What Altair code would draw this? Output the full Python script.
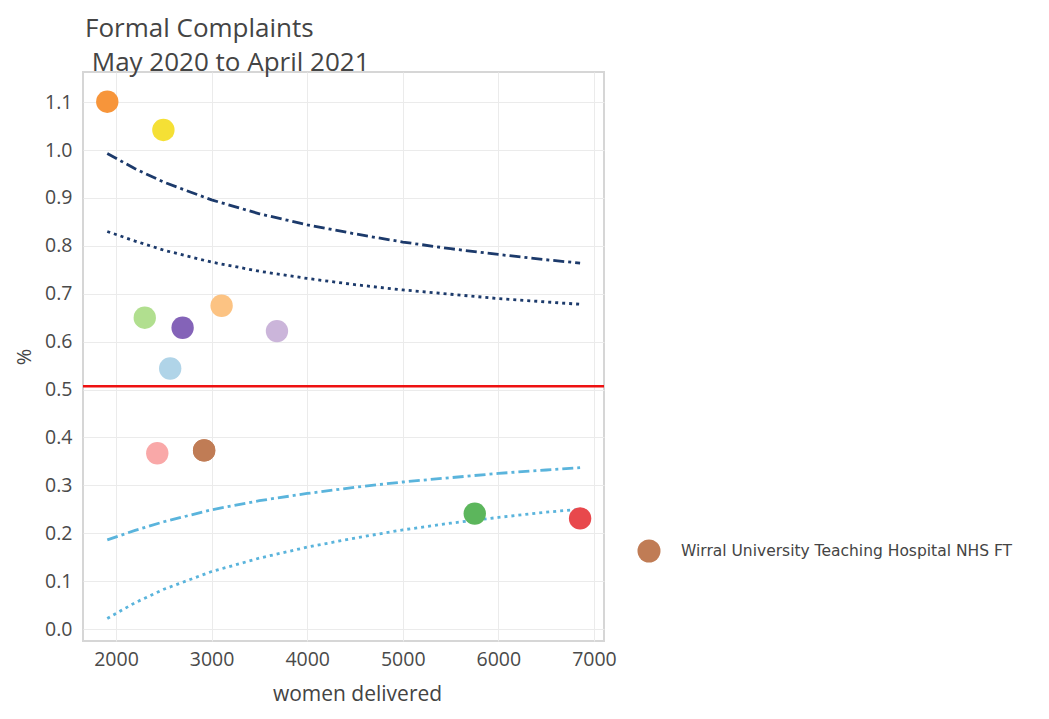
import altair as alt
import pandas as pd

# ---- hospitals (points) ----
hosp_n = [1909, 2496, 2301, 2697, 3105, 3684, 2567, 2432, 2922, 5753, 6855]
hosp_pct = [1.101, 1.042, 0.650, 0.629, 0.675, 0.622, 0.544, 0.367, 0.373, 0.241, 0.231]
hosp_color = ["#f7953a", "#f5e035", "#b1df8f", "#8463b8", "#fcc383", "#cbb5da",
              "#b0d4e8", "#f9a8a8", "#c07c55", "#5cb65c", "#e8484c"]

# ---- highlighted hospital (legend) ----
legend_name = ["Wirral University Teaching Hospital NHS FT"]
legend_n = [2922]
legend_pct = [0.373]
legend_color = ["#c07c55"]

# ---- mean line ----
mean_pct = [0.507]

# ---- control limits ----
limit_n = [1909, 2200, 2500, 3000, 3500, 4000, 4500, 5000, 5500, 6000, 6500, 6855]
upper_998 = [0.993, 0.961, 0.933, 0.896, 0.867, 0.844, 0.825, 0.808, 0.794, 0.782, 0.771, 0.764]
upper_95 = [0.830, 0.810, 0.791, 0.766, 0.747, 0.732, 0.719, 0.708, 0.699, 0.690, 0.683, 0.678]
lower_95 = [0.186, 0.206, 0.224, 0.249, 0.268, 0.283, 0.296, 0.307, 0.316, 0.325, 0.332, 0.337]
lower_998 = [0.022, 0.055, 0.083, 0.120, 0.148, 0.171, 0.190, 0.207, 0.221, 0.233, 0.244, 0.250]

x_ticks = [2000, 3000, 4000, 5000, 6000, 7000]
y_ticks = [0.0, 0.1, 0.2, 0.3, 0.4, 0.5, 0.6, 0.7, 0.8, 0.9, 1.0, 1.1]

NAVY = "#1c3a6b"
LIGHTBLUE = "#5ab4dc"

xscale = alt.Scale(domain=[1655, 7105], nice=False, zero=False)
yscale = alt.Scale(domain=[-0.025, 1.163], nice=False, zero=False)

xaxis = alt.Axis(values=x_ticks, title="women delivered", format="d", labelPadding=9,
                 titlePadding=15, titleFontSize=21, titleX=274)
yaxis = alt.Axis(values=y_ticks, title="%", format=".1f", labelPadding=11,
                 titlePadding=10, titleFontSize=20)

points_df = pd.DataFrame({"n": hosp_n, "pct": hosp_pct, "col": hosp_color})
legend_df = pd.DataFrame({"hospital": legend_name, "n": legend_n, "pct": legend_pct})
mean_df = pd.DataFrame({"pct": mean_pct})


def limit_layer(values, color, dash):
    df = pd.DataFrame({"n": limit_n, "pct": values})
    return alt.Chart(df).mark_line(color=color, strokeWidth=2.8, strokeDash=dash).encode(
        x=alt.X("n:Q", scale=xscale, axis=xaxis),
        y=alt.Y("pct:Q", scale=yscale, axis=yaxis),
    )


l1 = limit_layer(upper_998, NAVY, [11, 4, 3, 4])
l2 = limit_layer(upper_95, NAVY, [3, 4])
l3 = limit_layer(lower_95, LIGHTBLUE, [11, 4, 3, 4])
l4 = limit_layer(lower_998, LIGHTBLUE, [3, 4])

mean_rule = alt.Chart(mean_df).mark_rule(color="#ee1111", strokeWidth=2.5).encode(
    y=alt.Y("pct:Q", scale=yscale, axis=yaxis)
)

pts = alt.Chart(points_df).mark_circle(size=500, opacity=1).encode(
    x=alt.X("n:Q", scale=xscale, axis=xaxis),
    y=alt.Y("pct:Q", scale=yscale, axis=yaxis),
    color=alt.Color("col:N", scale=None),
)

leg = alt.Chart(legend_df).mark_circle(size=500, opacity=1).encode(
    x=alt.X("n:Q", scale=xscale, axis=xaxis),
    y=alt.Y("pct:Q", scale=yscale, axis=yaxis),
    color=alt.Color(
        "hospital:N",
        scale=alt.Scale(domain=legend_name, range=legend_color),
        legend=alt.Legend(
            orient="none", legendX=554, legendY=467, title=None,
            labelFont="DejaVu Sans", labelFontSize=15.5, labelColor="#444",
            symbolType="circle", symbolSize=530, symbolStrokeWidth=0,
            symbolOpacity=1, labelLimit=0, padding=0, labelOffset=20,
        ),
    ),
)

chart = alt.layer(l1, l2, l3, l4, mean_rule, pts, leg).resolve_scale(
    color="independent"
).properties(
    width=521,
    height=569,
    title=alt.Title(
        ["Formal Complaints", "\u200b\u00a0May 2020 to April 2021"],
        anchor="start", frame="group", fontSize=26, font="Open Sans",
        fontWeight="normal", color="#444", lineHeight=34, offset=-4, dx=2,
    ),
    autosize=alt.AutoSizeParams(type="none"),
    padding={"left": 75, "top": 64, "right": 437, "bottom": 70},
).configure_view(
    stroke="#d6d6d6", strokeWidth=2
).configure_axis(
    domain=False, ticks=False, grid=True, gridColor="#ebebeb", gridWidth=1,
    labelFont="Open Sans", labelFontSize=19.5, labelColor="#4a4a4a",
    titleFont="Open Sans", titleFontWeight="normal", titleColor="#444",
)

chart.save("out.html", embed_options={"renderer": "svg", "actions": False})
